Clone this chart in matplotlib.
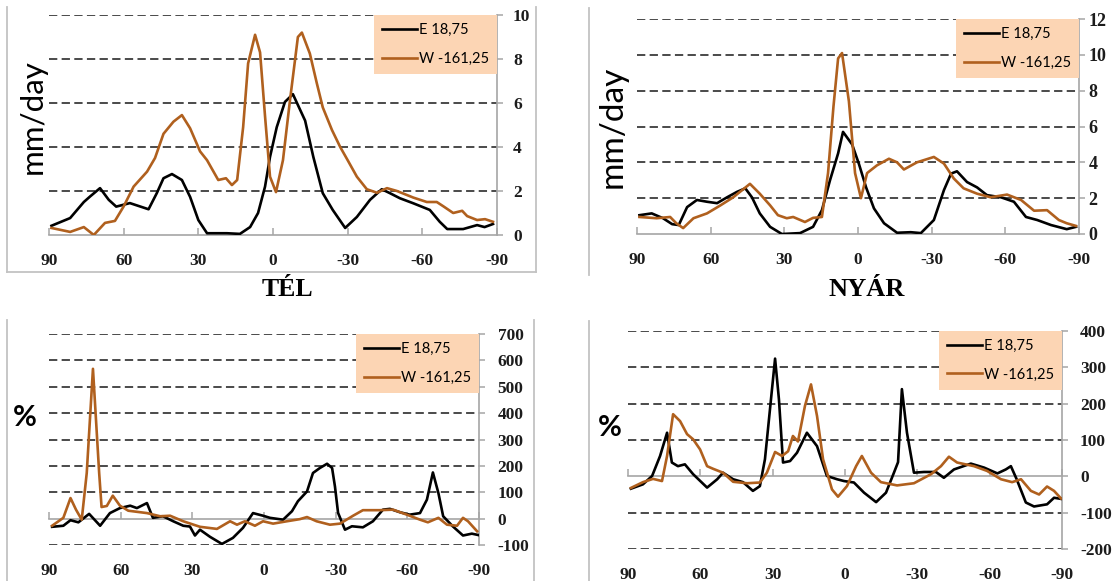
import matplotlib
matplotlib.use('Agg')
import matplotlib.pyplot as plt
from matplotlib.lines import Line2D

# ---------------- data (latitude, value) ----------------
tel_lat_e = [89, 81.5, 76, 73.5, 69.5, 66, 63, 57.5, 50, 46.7, 44, 40.6, 36.6, 33.3, 30, 26.5, 18.5, 13.3, 9.2, 6, 3.2, 1.2,
             -1.5, -4.8, -8, -12.9, -16.2, -20, -24, -29, -33.7, -39, -43.7, -47, -51, -56.4, -63, -67, -70, -76.4, -82, -85, -88.4]
tel_e = [0.42, 0.77, 1.5, 1.75, 2.13, 1.6, 1.29, 1.45, 1.17, 1.9, 2.58, 2.77, 2.5, 1.73, 0.68, 0.08, 0.08, 0.05, 0.36, 1.0, 2.2, 3.55,
         4.9, 6.05, 6.4, 5.2, 3.55, 1.9, 1.14, 0.32, 0.82, 1.6, 2.08, 1.9, 1.67, 1.44, 1.14, 0.6, 0.27, 0.27, 0.45, 0.36, 0.5]

tel_lat_w = [89, 81.5, 76, 72, 67.5, 63.5, 60, 56, 50.6, 47.4, 44, 40, 36.6, 33.3, 29.3, 26.5, 22, 18.9, 16.5, 14.4, 12, 10, 7.2,
             5.2, 3.2, 1.2, -1.2, -4, -6.8, -10, -11.6, -14.8, -17.6, -20, -23.7, -27, -30, -33.7, -37.7, -41.8, -45.8, -49.8,
             -56.4, -61.8, -65.8, -68.5, -72.4, -76, -78, -82, -85.2, -88.4]
tel_w = [0.32, 0.14, 0.36, 0.0, 0.55, 0.64, 1.3, 2.2, 2.88, 3.5, 4.6, 5.15, 5.45, 4.85, 3.8, 3.4, 2.5, 2.58, 2.27, 2.5, 4.9, 7.8, 9.1,
         8.3, 5.4, 2.65, 1.95, 3.4, 6.1, 9.0, 9.2, 8.25, 6.9, 5.8, 4.77, 4.0, 3.4, 2.65, 2.08, 1.92, 2.13, 2.0,
         1.7, 1.5, 1.5, 1.3, 1.0, 1.1, 0.86, 0.68, 0.72, 0.6]

nyar_lat_e = [89, 84, 79.4, 75.7, 73, 69.6, 65.6, 61.5, 57.4, 53.3, 49.3, 45.9, 43.2, 40, 35.8, 31, 23.6, 18.3, 14.7, 11.4, 8.1,
              6.1, 2.4, -0.4, -3.3, -6.5, -10.6, -15.9, -21.5, -25.6, -30.9, -35, -37.9, -40.3, -44.4, -48.5, -52.5, -58.2,
              -63.5, -68.4, -73, -78.6, -85, -88.8]
nyar_e = [1.05, 1.15, 0.88, 0.55, 0.5, 1.5, 1.9, 1.8, 1.72, 2.05, 2.35, 2.55, 2.05, 1.15, 0.4, 0.0, 0.05, 0.4, 1.33, 3.0, 4.5,
          5.7, 5.0, 3.9, 2.6, 1.43, 0.6, 0.07, 0.1, 0.05, 0.78, 2.45, 3.37, 3.5, 2.9, 2.6, 2.17, 2.05,
          1.8, 0.95, 0.78, 0.5, 0.27, 0.4]

nyar_lat_w = [89, 82, 76.5, 74, 71.2, 67, 61.5, 56, 50.8, 44, 40, 35.8, 32.6, 29, 26.4, 21.6, 18.3, 14.7, 12.2, 10, 8.1, 6.5,
              3.7, 1.2, -1.2, -3.7, -7.7, -12.6, -15.9, -18.7, -24, -30.9, -35, -39, -43, -48.5, -54, -60.7, -66.4, -71.7,
              -77, -81.8, -85, -88.8]
nyar_w = [0.95, 0.88, 0.95, 0.6, 0.33, 0.88, 1.15, 1.6, 2.05, 2.8, 2.25, 1.6, 1.05, 0.88, 0.95, 0.67, 0.9, 0.95, 3.4, 7.1, 9.8, 10.1,
          7.4, 3.4, 2.0, 3.4, 3.83, 4.2, 4.0, 3.6, 4.0, 4.3, 3.93, 3.1, 2.55, 2.25, 2.05, 2.2, 1.9, 1.3,
          1.33, 0.78, 0.6, 0.45]

tel_pct_lat_e = [88.7, 84, 81, 77.7, 73.2, 68.6, 64.5, 60.3, 56, 53.2, 49, 46.5, 42.3, 38, 33.8, 31, 28.9, 26.8, 22.6, 17.6, 13,
                 8.8, 4.6, 0.4, -2.5, -8, -11.7, -14.2, -18, -20.5, -23.4, -26.4, -28.5, -29.7, -31, -33.9, -36.8, -41.4,
                 -45.6, -49.8, -52.7, -57, -61, -65.3, -68.2, -70.7, -73, -75, -79, -83.3, -87, -89.6]
tel_pct_e = [-31, -27, -6, -14, 18, -27, 21, 40, 49, 40, 59, 3, 9, -10, -27, -30, -64, -42, -69, -96, -73,
             -35, 21, 11, 3, -4, 28, 66, 103, 173, 192, 208, 192, 122, 22, -42, -29, -33,
             -10, 34, 37, 24, 15, 21, 72, 175, 97, 9, -29, -64, -57, -62]

tel_pct_lat_w = [88.7, 84, 81, 78.7, 76.3, 74.2, 71.6, 69, 68, 65.8, 63.3, 60.3, 56.8, 49, 43.5, 39.3, 33.8, 26.8, 19.7, 14.2,
                 11.3, 8, 3.8, 0.4, -3.8, -9.6, -15, -18, -22, -27.6, -31.8, -37.3, -41.4, -48.5, -54, -59.8, -65.3, -68.6,
                 -73, -76.6, -80.8, -83.3, -85.4, -89.2]
tel_pct_w = [-27, 3, 78, 34, -4, 173, 568, 173, 44, 48, 87, 49, 30, 21, 9, 11, -10, -31, -39, -10,
             -23, -10, -27, -10, -19, -10, -2, 6, -10, -23, -19, 11, 32, 32, 34, 15, -4, -14,
             3, -23, -27, 3, -10, -48]

nyar_pct_lat_e = [88.8, 83.8, 80, 76.7, 73.8, 71.8, 69.3, 66.4, 63, 57.2, 53, 50.6, 46.4, 42.3, 38.2, 35.3, 33.2, 30.7, 29, 27.4,
                  25.7, 22.8, 19.9, 15.8, 11.6, 7.5, 3.3, 0.4, -3.7, -7.9, -12.9, -17, -20.3, -22, -23.6, -25.7, -28.6,
                  -32.8, -37.7, -41, -45.2, -52.2, -57.7, -63.2, -66.7, -68.8, -71.2, -75, -78.4, -83.8, -86.7, -89.6]
nyar_pct_e = [-34, -22, 1, 56, 120, 38, 28, 33, 6, -31, -8, 10, -8, -16, -40, -27, 47, 212, 324, 212,
              38, 42, 65, 120, 83, 1, -8, -13, -17, -45, -71, -45, 10, 39, 240, 120, 10,
              12, 12, -4, 19, 35, 24, 8, 19, 28, -8, -72, -83, -77, -59, -62]

nyar_pct_lat_w = [88.8, 83.8, 79.6, 75.9, 73.8, 71.3, 68.4, 65.5, 63, 60.1, 57.2, 54.8, 50.6, 46.4, 40.6, 35.3, 32.4, 29, 26.1,
                  23.6, 21.6, 19.5, 16.6, 14.1, 11.6, 9.1, 5.4, 2.9, -0.8, -4.6, -7, -10.8, -14.9, -21.6, -28.6, -35.7,
                  -39.8, -43.1, -46.5, -53.5, -58.9, -64.7, -69.3, -73, -77.1, -80.5, -83.8, -86.7, -89.6]
nyar_pct_w = [-32, -16, -7, -13, 56, 171, 152, 116, 102, 74, 28, 21, 10, -15, -19, -17, 10, 67, 56,
              69, 111, 96, 194, 253, 166, 47, -36, -56, -27, 28, 56, 10, -16, -25, -19, 6,
              28, 54, 38, 28, 15, -8, -16, -8, -40, -50, -28, -40, -61]

x_ticks = [90, 60, 30, 0, -30, -60, -90]
labels = ['E 18,75', 'W -161,25']

# ---------------- style ----------------
W, H = 1114, 581
BLACK = '#000000'
BROWN = '#B0601E'
LEG_BG = '#FCD5B4'
GRID = '#3c3c3c'
AXIS = '#a6a6a6'
FRAME = '#c3c3c3'
TICKC = '#1c1c1c'
SANS = ['Lato', 'DejaVu Sans']
SERIF = ['Liberation Serif', 'DejaVu Serif']

fig = plt.figure(figsize=(W / 100, H / 100), dpi=100)


def frame_line(x1, y1, x2, y2):
    fig.add_artist(Line2D([x1 / W, x2 / W], [1 - y1 / H, 1 - y2 / H], transform=fig.transFigure,
                          color=FRAME, lw=1.3))


def panel(box, ylim, ystep, lat_e, val_e, lat_w, val_w, xpad, ypad, ysize):
    left, right, top, bottom = box
    ax = fig.add_axes([left / W, 1 - bottom / H, (right - left) / W, (bottom - top) / H])
    ax.set_xlim(90, -90)
    ax.set_ylim(*ylim)
    yt = list(range(ylim[0], ylim[1] + 1, ystep))
    for v in yt:
        if v != 0:
            ax.axhline(v, color=GRID, lw=1.3, linestyle=(0, (4.6, 2.4)), zorder=1)
    l1, = ax.plot(lat_e, val_e, color=BLACK, lw=1.9, zorder=3, solid_joinstyle='round')
    l2, = ax.plot(lat_w, val_w, color=BROWN, lw=1.9, zorder=3, solid_joinstyle='round')
    for s in ['top', 'left']:
        ax.spines[s].set_visible(False)
    ax.spines['right'].set_color(AXIS)
    ax.spines['right'].set_linewidth(1.2)
    ax.spines['bottom'].set_color(AXIS)
    ax.spines['bottom'].set_linewidth(1.2)
    ax.spines['bottom'].set_position(('data', 0))
    ax.set_xticks(x_ticks)
    ax.set_xticklabels([str(t) for t in x_ticks])
    ax.yaxis.tick_right()
    ax.set_yticks(yt)
    ax.set_yticklabels([str(v) for v in yt])
    ax.tick_params(axis='x', direction='in', length=5, width=1.1, color=AXIS, pad=xpad, labelcolor=TICKC)
    ax.tick_params(axis='y', direction='out', length=4, width=1.1, color=AXIS, pad=ypad, labelcolor=TICKC)
    for lab in ax.get_xticklabels():
        lab.set_fontfamily(SERIF)
        lab.set_fontweight('bold')
        lab.set_fontsize(12.5)
    for lab in ax.get_yticklabels():
        lab.set_fontfamily(SERIF)
        lab.set_fontweight('bold')
        lab.set_fontsize(ysize)
        lab.set_horizontalalignment('left')
    ax.patch.set_alpha(0)
    leg = ax.legend([l1, l2], labels, loc='upper right', bbox_to_anchor=(1.0, 1.0), borderaxespad=0,
                    frameon=True, facecolor=LEG_BG, edgecolor='none', framealpha=1, fancybox=False,
                    handlelength=2.4, handletextpad=0.1, labelspacing=1.0, borderpad=0.55,
                    prop={'family': SANS, 'size': 10.5})
    leg.set_zorder(5)
    return ax


panel((49, 497, 15, 235), (0, 10), 2, tel_lat_e, tel_e, tel_lat_w, tel_w, 13, 7.5, 12.5)
panel((637, 1079, 19, 234), (0, 12), 2, nyar_lat_e, nyar_e, nyar_lat_w, nyar_w, 13, 3, 13)
panel((49, 479, 334, 545), (-100, 700), 100, tel_pct_lat_e, tel_pct_e, tel_pct_lat_w, tel_pct_w, 32, 9.5, 12.5)
panel((628, 1062, 331, 549), (-200, 400), 100, nyar_pct_lat_e, nyar_pct_e, nyar_pct_lat_w, nyar_pct_w, 65, 9, 12.5)

# chart-area frames
frame_line(7, 7, 7, 272)
frame_line(7, 272, 536, 272)
frame_line(536, 7, 536, 272)
frame_line(589, 8, 589, 275)
frame_line(7, 320, 7, 581)
frame_line(534, 320, 534, 581)
frame_line(589, 321, 589, 581)

# axis titles
fig.text(33 / W, 1 - 117 / H, 'mm/day', rotation=90, ha='center', va='center', family=SANS, fontsize=22.5)
fig.text(613 / W, 1 - 127 / H, 'mm/day', rotation=90, ha='center', va='center', family=SANS, fontsize=24)
fig.text(25 / W, 1 - 418 / H, '%', ha='center', va='center', family=SANS, fontweight='bold', fontsize=21)
fig.text(610 / W, 1 - 428 / H, '%', ha='center', va='center', family=SANS, fontweight='bold', fontsize=21)
fig.text(287 / W, 1 - 289 / H, 'TÉL', ha='center', va='center', family=SERIF, fontweight='bold', fontsize=18.5)
fig.text(867 / W, 1 - 290 / H, 'NYÁR', ha='center', va='center', family=SERIF, fontweight='bold', fontsize=19)

fig.savefig('out.png', dpi=100)
